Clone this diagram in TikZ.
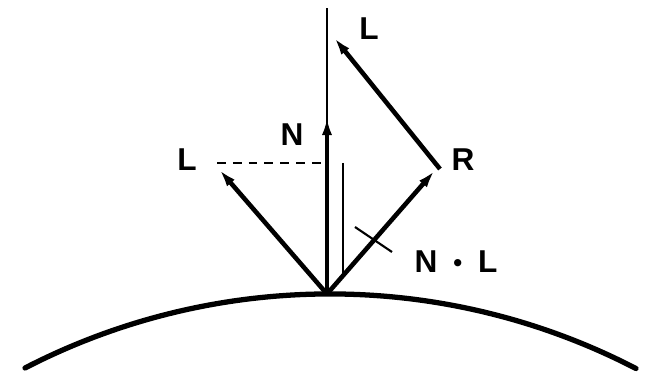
\documentclass[tikz,border=0pt]{standalone}
\usepackage{fontspec}
\setsansfont{Liberation Sans}
\usetikzlibrary{arrows.meta}

\begin{document}
\begin{tikzpicture}[
  x=0.02cm, y=0.02cm,
  vec/.style={-{Latex[length=12pt,width=5.5pt]}, line width=2.6pt},
  guide/.style={line width=1.2pt},
  proj/.style={dashed, line width=1.2pt, dash pattern=on 5pt off 4pt},
  surf/.style={line width=3pt, line cap=round},
  lbl/.style={font=\fontsize{18}{21}\selectfont\sffamily\bfseries, inner sep=1pt},
]
  \useasboundingbox (0,0) rectangle (654,376);

  % Points
  \coordinate (P)     at (327, 82);
  \coordinate (top)   at (327,368);
  \coordinate (Ntip)  at (327,262);
  \coordinate (Ltip)  at (217,209);
  \coordinate (Rtip)  at (437,208);
  \coordinate (Lend)  at (332,341);
  \coordinate (Lfoot) at (327,213);
  \coordinate (NLtop) at (343,213);
  \coordinate (NLbot) at (343,101);
  \coordinate (tickA) at (355,149);
  \coordinate (tickB) at (392,124);
  \coordinate (arcL)  at (25,8);

  % Surface
  \draw[surf] (arcL) arc[start angle=117.3, end angle=62.6, radius=665];

  % Normal axis
  \draw[guide] (P) -- (top);
  \draw[vec] (P) -- (Ntip);

  % Light and reflection
  \draw[vec] (P) -- (Ltip);
  \draw[vec] (P) -- (Rtip);
  \draw[vec] (Rtip) ++(3,-1) -- (Lend);

  % Projection of L on N
  \draw[proj] (Ltip) ++(0,4) -- (Lfoot);
  \draw[guide] (NLtop) -- (NLbot);
  \draw[guide] (tickA) -- (tickB);

  % Labels
  \node[lbl] (labN)  at (292,241) {N};
  \node[lbl] (labL)  at (187,216) {L};
  \node[lbl] (labR)  at (463,216) {R};
  \node[lbl] (labL2) at (369,347) {L};
  \node[lbl] (labNL) at (456,114) {N\enspace\raisebox{0.1ex}{\scalebox{0.8}{•}}\enspace L};
\end{tikzpicture}
\end{document}
